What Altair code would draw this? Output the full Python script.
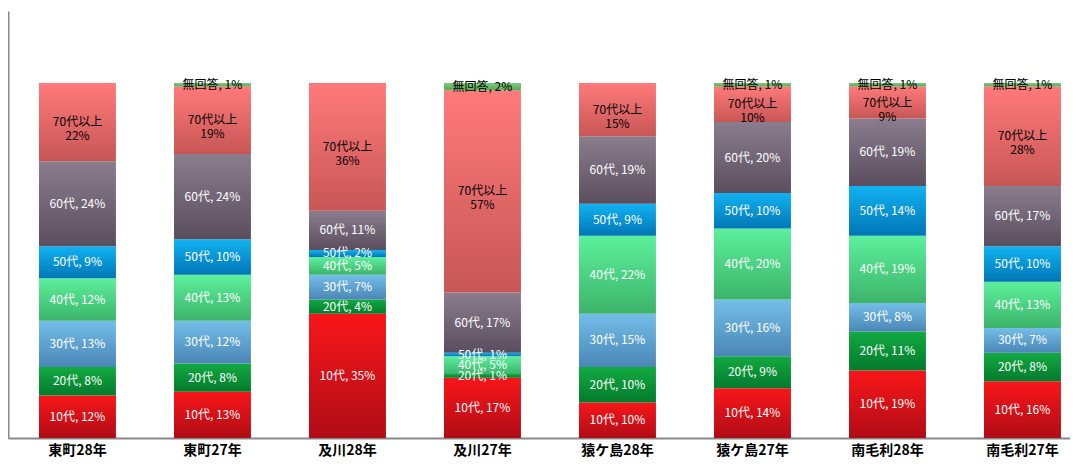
import altair as alt
import pandas as pd

areas = ["東町28年", "東町27年", "及川28年", "及川27年", "猿ケ島28年", "猿ケ島27年", "南毛利28年", "南毛利27年"]
ages = ["10代", "20代", "30代", "40代", "50代", "60代", "70代以上", "無回答"]
v10 = [12, 13, 35, 17, 10, 14, 19, 16]
v20 = [8, 8, 4, 1, 10, 9, 11, 8]
v30 = [13, 12, 7, 0, 15, 16, 8, 7]
v40 = [12, 13, 5, 5, 22, 20, 19, 13]
v50 = [9, 10, 2, 1, 9, 10, 14, 10]
v60 = [24, 24, 11, 17, 19, 20, 19, 17]
v70 = [22, 19, 36, 57, 15, 10, 9, 28]
vna = [0, 1, 0, 2, 0, 1, 1, 1]
series = [v10, v20, v30, v40, v50, v60, v70, vna]

grad_stops = {
    "10代": ("#f81619", "#b00c16"),
    "20代": ("#12aa42", "#047a2c"),
    "30代": ("#74bee8", "#4a86b6"),
    "40代": ("#5cf09c", "#3cb46a"),
    "50代": ("#12b2f2", "#0076b6"),
    "60代": ("#8a7e8e", "#5a4e5e"),
    "70代以上": ("#ff7a7a", "#c85656"),
    "無回答": ("#7ccc7c", "#58a858"),
}

rows = []
for i, age in enumerate(ages):
    for j, area in enumerate(areas):
        v = series[i][j]
        if age == "70代以上":
            label = f"{age}\n{v}%"
        else:
            label = f"{age}, {v}%"
        rows.append({
            "area": area,
            "age": age,
            "order": i,
            "value": v,
            "label": label,
            "tc": "#000000" if age in ("70代以上", "無回答") else "#ffffff",
        })
df = pd.DataFrame(rows)

FONT = "Noto Sans CJK JP"

x_enc = alt.X(
    "area:N",
    sort=areas,
    title=None,
    scale=alt.Scale(paddingInner=0.43, paddingOuter=0.1483, align=0.774),
    axis=alt.Axis(
        labelAngle=0, ticks=False, labelFontWeight="bold", labelFontSize=14,
        labelColor="#000000", labelFont=FONT, labelPadding=5,
        domainColor="#888888", domainWidth=2,
    ),
)
y_scale = alt.Scale(domain=[0, 120.3], nice=False)
y_axis = alt.Axis(labels=False, ticks=False, grid=False, title=None,
                  domainColor="#888888", domainWidth=2)

base = alt.Chart(df).transform_stack(
    stack="value", groupby=["area"], sort=[alt.SortField("order", order="ascending")],
    as_=["y0", "y1"],
)

layers = []
for age in ages:
    top, bot = grad_stops[age]
    g = alt.Gradient(
        gradient="linear", x1=0, y1=0, x2=0, y2=1,
        stops=[alt.GradientStop(color=top, offset=0), alt.GradientStop(color=bot, offset=1)],
    )
    layers.append(
        base.transform_filter(alt.datum.age == age)
        .mark_bar(color=g)
        .encode(
            x=x_enc,
            y=alt.Y("y0:Q", scale=y_scale, axis=y_axis),
            y2="y1:Q",
        )
    )

text = (
    base.transform_filter(alt.datum.value > 0)
    .transform_calculate(mid="(datum.y0 + datum.y1) / 2")
    .mark_text(font=FONT, fontSize=12, lineBreak="\n", baseline="middle", align="center")
    .encode(
        x=x_enc,
        y=alt.Y("mid:Q", scale=y_scale, axis=y_axis),
        text="label:N",
        color=alt.Color("tc:N", scale=None),
    )
)

chart = (
    alt.layer(*layers, text)
    .properties(
        width=1062, height=427,
        autosize=alt.AutoSizeParams(type="none"),
        padding={"left": 0, "top": 3, "right": 0, "bottom": 20},
        background="#ffffff",
    )
    .configure_view(stroke=None)
)

chart.save("out.html", embed_options={"renderer": "svg", "actions": False})
